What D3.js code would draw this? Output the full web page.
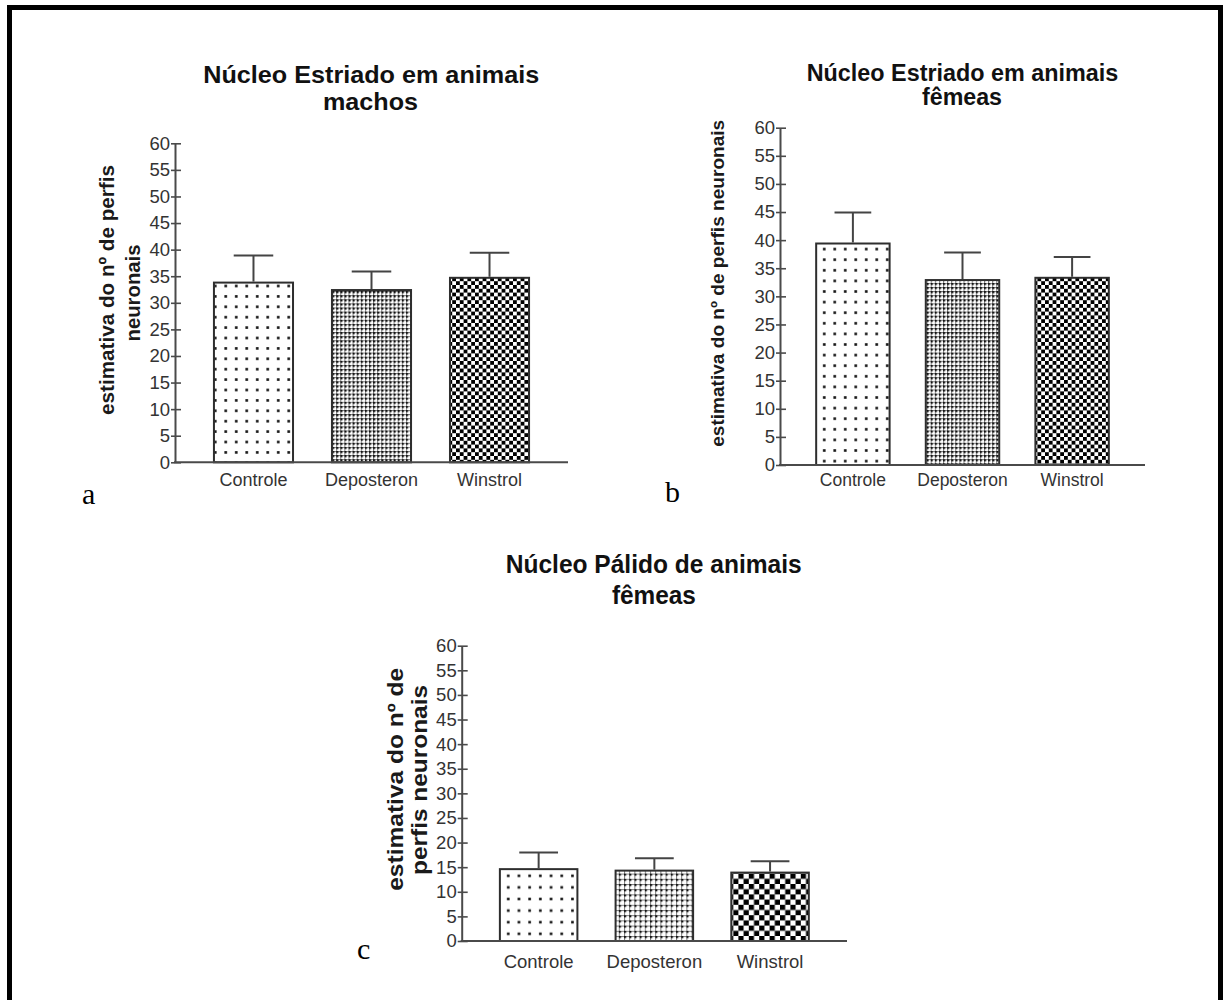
<!DOCTYPE html>
<html>
<head>
<meta charset="utf-8">
<script src="https://cdn.jsdelivr.net/npm/d3@7"></script>
<style>
  html, body { margin: 0; padding: 0; background: #fff; }
  svg { display: block; font-family: "Liberation Sans", Arial, sans-serif; }
</style>
</head>
<body>
<script>
// Groups compared in every panel
const categories = ["Controle", "Deposteron", "Winstrol"];
const yTickValues = [0, 5, 10, 15, 20, 25, 30, 35, 40, 45, 50, 55, 60];

// Núcleo estriado, machos: média e erro padrão
const estriadoMachosMean = [33.8, 32.4, 34.7];
const estriadoMachosSem = [5.1, 3.5, 4.7];

// Núcleo estriado, fêmeas
const estriadoFemeasMean = [39.4, 32.9, 33.3];
const estriadoFemeasSem = [5.5, 4.9, 3.7];

// Núcleo pálido, fêmeas
const palidoFemeasMean = [14.6, 14.3, 13.9];
const palidoFemeasSem = [3.4, 2.5, 2.3];

const W = 1223, H = 1000;
const SANS = "'Liberation Sans', Arial, sans-serif";
const SERIF = "'Liberation Serif', 'Times New Roman', serif";

const svg = d3.select("body").append("svg").attr("width", W).attr("height", H);
const defs = svg.append("defs");

// Fill patterns: sparse dots, fine dot grid, checkerboard
function makePatterns(id, o) {
  const dots = defs.append("pattern").attr("id", id + "-dots")
    .attr("patternUnits", "userSpaceOnUse")
    .attr("width", o.dotW).attr("height", o.dotH);
  dots.append("rect").attr("width", o.dotW).attr("height", o.dotH).attr("fill", "#fff");
  dots.append("rect").attr("x", o.dotW / 2 - 1.3).attr("y", o.dotH / 2 - 1.3)
    .attr("width", 2.6).attr("height", 2.6).attr("fill", "#111");

  const grid = defs.append("pattern").attr("id", id + "-grid")
    .attr("patternUnits", "userSpaceOnUse")
    .attr("width", o.grid).attr("height", o.grid);
  grid.append("rect").attr("width", o.grid).attr("height", o.grid).attr("fill", "#fff");
  grid.append("rect").attr("x", 0).attr("y", 0).attr("width", o.grid).attr("height", 1).attr("fill", "#7a7a7a");
  grid.append("rect").attr("x", 0).attr("y", 0).attr("width", 1).attr("height", o.grid).attr("fill", "#7a7a7a");
  grid.append("rect").attr("x", 0).attr("y", 0).attr("width", 2.1).attr("height", 2.1).attr("fill", "#111");

  const chk = defs.append("pattern").attr("id", id + "-check")
    .attr("patternUnits", "userSpaceOnUse")
    .attr("width", o.cell * 2).attr("height", o.cell * 2);
  chk.append("rect").attr("width", o.cell * 2).attr("height", o.cell * 2).attr("fill", "#fff");
  chk.append("rect").attr("x", 0).attr("y", 0).attr("width", o.cell).attr("height", o.cell).attr("fill", "#000");
  chk.append("rect").attr("x", o.cell).attr("y", o.cell).attr("width", o.cell).attr("height", o.cell).attr("fill", "#000");
}

const panels = [
  {
    id: "a", mean: estriadoMachosMean, sem: estriadoMachosSem,
    x0: 175, x1: 568, y0: 462.3, y1: 143.3,
    pat: { dotW: 10.5, dotH: 10.4, grid: 4.1, cell: 3.8 },
    title: [{ t: "Núcleo Estriado em animais", x: 371.2, y: 82.7, len: 336 },
            { t: "machos", x: 370.5, y: 110, len: 95 }],
    titleSize: 24,
    ylab: [{ t: "estimativa do nº de perfis", x: 114, y: 290, len: 250 },
           { t: "neuronais", x: 140, y: 293, len: 97 }],
    ylabSize: 20,
    xLabY: 486, xLabSize: 18,
    letter: { t: "a", x: 82, y: 504 }
  },
  {
    id: "b", mean: estriadoFemeasMean, sem: estriadoFemeasSem,
    x0: 780, x1: 1145, y0: 465, y1: 127.7,
    pat: { dotW: 10.5, dotH: 10.6, grid: 4.1, cell: 3.8 },
    title: [{ t: "Núcleo Estriado em animais", x: 962.5, y: 81, len: 311.6 },
            { t: "fêmeas", x: 962, y: 105, len: 80 }],
    titleSize: 23,
    ylab: [{ t: "estimativa do nº de perfis neuronais", x: 724, y: 283.3, len: 327 }],
    ylabSize: 17.5,
    xLabY: 486, xLabSize: 17.5,
    letter: { t: "b", x: 665, y: 502 }
  },
  {
    id: "c", mean: palidoFemeasMean, sem: palidoFemeasSem,
    x0: 461.7, x1: 847, y0: 941, y1: 645.7,
    pat: { dotW: 10.7, dotH: 11.6, grid: 5.2, cell: 5.2 },
    title: [{ t: "Núcleo Pálido de animais", x: 653.7, y: 573.3, len: 296 },
            { t: "fêmeas", x: 653.9, y: 604, len: 84 }],
    titleSize: 26,
    ylab: [{ t: "estimativa do nº de", x: 403, y: 779.3, len: 223 },
           { t: "perfis neuronais", x: 427, y: 780, len: 190 }],
    ylabSize: 21.5,
    xLabY: 968, xLabSize: 18.5,
    letter: { t: "c", x: 357, y: 959 }
  }
];

panels.forEach(p => {
  makePatterns(p.id, p.pat);
  const fills = [`url(#${p.id}-dots)`, `url(#${p.id}-grid)`, `url(#${p.id}-check)`];
  const g = svg.append("g");

  const x = d3.scaleBand().domain(categories).range([p.x0, p.x1])
    .paddingInner(0.33).paddingOuter(0.33);
  const y = d3.scaleLinear().domain([0, 60]).range([p.y0, p.y1]);

  // Bars
  g.selectAll("rect.bar").data(categories).join("rect")
    .attr("class", "bar")
    .attr("x", d => x(d))
    .attr("y", (d, i) => y(p.mean[i]))
    .attr("width", x.bandwidth())
    .attr("height", (d, i) => y(0) - y(p.mean[i]))
    .attr("fill", (d, i) => fills[i])
    .attr("stroke", "#2e2e2e").attr("stroke-width", 2);

  // Error bars (upper only)
  const eb = g.selectAll("g.err").data(categories).join("g").attr("class", "err");
  eb.append("line")
    .attr("x1", d => x(d) + x.bandwidth() / 2).attr("x2", d => x(d) + x.bandwidth() / 2)
    .attr("y1", (d, i) => y(p.mean[i]) - 1).attr("y2", (d, i) => y(p.mean[i] + p.sem[i]))
    .attr("stroke", "#444").attr("stroke-width", 2);
  eb.append("line")
    .attr("x1", d => x(d) + x.bandwidth() / 4).attr("x2", d => x(d) + x.bandwidth() * 3 / 4)
    .attr("y1", (d, i) => y(p.mean[i] + p.sem[i])).attr("y2", (d, i) => y(p.mean[i] + p.sem[i]))
    .attr("stroke", "#444").attr("stroke-width", 2);

  // Y axis
  const ya = g.append("g").attr("transform", `translate(${p.x0},0)`)
    .call(d3.axisLeft(y).tickValues(yTickValues).tickSize(0).tickPadding(5));
  ya.select(".domain").attr("stroke", "#4a4a4a").attr("stroke-width", 2);
  ya.selectAll(".tick text").attr("font-size", 18.5).attr("fill", "#333")
    .style("font-family", SANS);
  ya.selectAll(".tick").append("line")
    .attr("x1", -4).attr("x2", 6).attr("stroke", "#4a4a4a").attr("stroke-width", 1.6);

  // X axis
  const xa = g.append("g").attr("transform", `translate(0,${p.y0})`)
    .call(d3.axisBottom(x).tickSize(0).tickSizeOuter(0));
  xa.select(".domain").attr("stroke", "#4a4a4a").attr("stroke-width", 2)
    .attr("d", `M${p.x0 - 1},0H${p.x1}`);
  xa.selectAll(".tick text").attr("y", p.xLabY - p.y0).attr("dy", 0)
    .attr("font-size", p.xLabSize).attr("fill", "#333")
    .style("font-family", SANS);

  // Title
  g.selectAll("text.title").data(p.title).join("text")
    .attr("class", "title")
    .attr("x", d => d.x).attr("y", d => d.y)
    .attr("text-anchor", "middle").attr("font-weight", "bold")
    .attr("font-size", p.titleSize).attr("fill", "#111")
    .attr("textLength", d => d.len).attr("lengthAdjust", "spacingAndGlyphs")
    .style("font-family", SANS)
    .text(d => d.t);

  // Y axis label
  g.selectAll("text.ylab").data(p.ylab).join("text")
    .attr("class", "ylab")
    .attr("transform", d => `translate(${d.x},${d.y}) rotate(-90)`)
    .attr("text-anchor", "middle").attr("font-weight", "bold")
    .attr("font-size", p.ylabSize).attr("fill", "#1a1a1a")
    .attr("textLength", d => d.len).attr("lengthAdjust", "spacingAndGlyphs")
    .style("font-family", SANS)
    .text(d => d.t);

  // Panel letter
  g.append("text")
    .attr("x", p.letter.x).attr("y", p.letter.y)
    .attr("font-size", 30).attr("fill", "#000")
    .style("font-family", SERIF)
    .text(p.letter.t);
});

// Surrounding frame (open at the bottom)
svg.append("path")
  .attr("d", `M9.5,${H + 5}V7.5H1220.5V${H + 5}`)
  .attr("fill", "none").attr("stroke", "#000").attr("stroke-width", 5);
</script>
</body>
</html>
